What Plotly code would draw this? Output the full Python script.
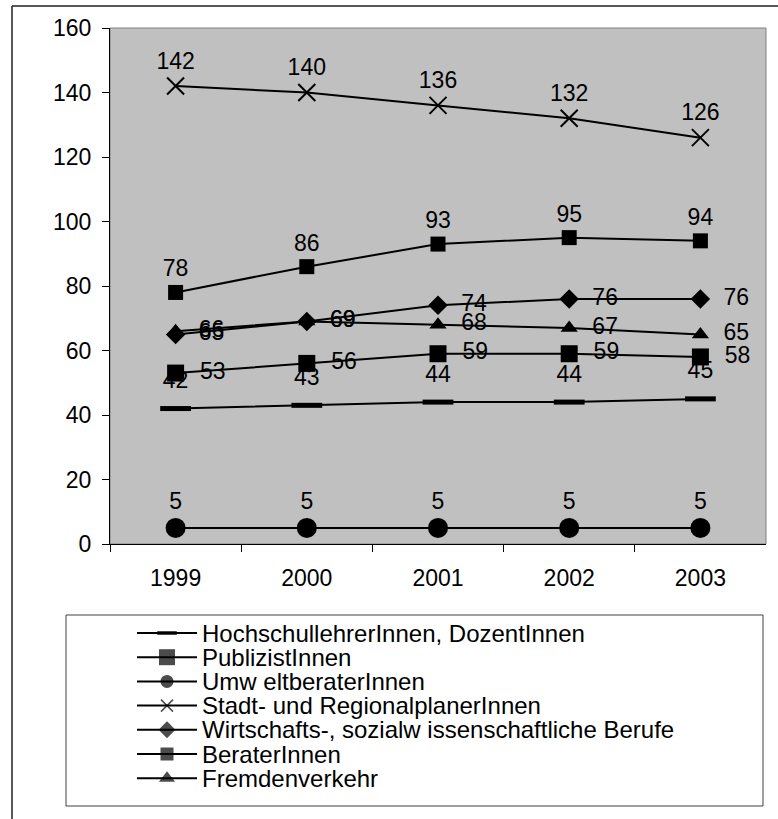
import plotly.graph_objects as go

# Jahre und Werte je Berufsgruppe
years = ["1999", "2000", "2001", "2002", "2003"]
hochschul = [42, 43, 44, 44, 45]
publizist = [78, 86, 93, 95, 94]
umwelt = [5, 5, 5, 5, 5]
stadt = [142, 140, 136, 132, 126]
wirtschaft = [65, 69, 74, 76, 76]
berater = [53, 56, 59, 59, 58]
fremden = [66, 69, 68, 67, 65]

names = [
    "HochschullehrerInnen, DozentInnen",
    "PublizistInnen",
    "Umw eltberaterInnen",
    "Stadt- und RegionalplanerInnen",
    "Wirtschafts-, sozialw issenschaftliche Berufe",
    "BeraterInnen",
    "Fremdenverkehr",
]
y_ticks = [0, 20, 40, 60, 80, 100, 120, 140, 160]

W, H = 778, 819
FONT = "Liberation Sans, Arial, sans-serif"
FS = 23
LEG_FS = 24

# pixel helpers for layout placement
def px(x):
    return x / W

def py(y):
    return (H - y) / H

series = [
    # values, symbol, size, marker outline width, label position, legend size, legend outline
    (hochschul, "line-ew", 22, 5, "top center", 14, 4),
    (publizist, "square", 15, 0, "top center", 16, 0),
    (umwelt, "circle", 20, 0, "top center", 13, 0),
    (stadt, "x-thin", 17, 2, "top center", 12, 1.5),
    (wirtschaft, "diamond", 15, 0, "middle right", 13, 0),
    (berater, "square", 17, 0, "middle right", 13, 0),
    (fremden, "triangle-up", 15, 0, "middle right", 14, 0),
]

fig = go.Figure()

for (vals, sym, size, mlw, tpos, _, _), name in zip(series, names):
    tt = "%{y}" if tpos == "top center" else "  %{y}"
    fig.add_trace(go.Scatter(
        x=years, y=vals, name=name, mode="lines+markers+text",
        line=dict(color="black", width=2),
        marker=dict(symbol=sym, size=size, color="black",
                    line=dict(color="black", width=mlw)),
        texttemplate=tt, textposition=tpos,
        textfont=dict(family=FONT, size=FS, color="black"),
        showlegend=False, cliponaxis=False,
    ))

# legend drawn on its own hidden axes
leg_y0, leg_dy = 633, 24.2
annotations = []
for i, ((vals, sym, size, mlw, tpos, lsize, llw), name) in enumerate(zip(series, names)):
    yy = leg_y0 + i * leg_dy
    fig.add_trace(go.Scatter(
        x=[137, 167, 197], y=[yy, yy, yy], mode="lines+markers",
        xaxis="x2", yaxis="y2",
        line=dict(color="black", width=2),
        marker=dict(symbol=sym, size=[0, lsize, 0], color="black",
                    line=dict(color="black", width=llw)),
        showlegend=False, hoverinfo="skip",
    ))
    annotations.append(dict(
        x=200, y=yy, xref="x2", yref="y2", text=name, showarrow=False,
        xanchor="left", yanchor="middle",
        font=dict(family=FONT, size=LEG_FS, color="black"),
    ))

shapes = [
    # grey plot area with thin border
    dict(type="rect", xref="x domain", yref="y domain", x0=0, x1=1, y0=0, y1=1,
         fillcolor="#c0c0c0", line=dict(color="#808080", width=1), layer="below"),
    # legend frame
    dict(type="rect", xref="x2 domain", yref="y2 domain", x0=0, x1=1, y0=0, y1=1,
         fillcolor="rgba(0,0,0,0)", line=dict(color="#404040", width=1)),
    # outer chart frame
    dict(type="line", xref="paper", yref="paper", x0=px(12), x1=px(12), y0=py(6), y1=py(830),
         line=dict(color="#202020", width=1.5)),
    dict(type="line", xref="paper", yref="paper", x0=px(12), x1=px(790), y0=py(6), y1=py(6),
         line=dict(color="#202020", width=1.5)),
]

fig.update_layout(
    width=W, height=H,
    margin=dict(l=0, r=0, t=0, b=0, autoexpand=False),
    paper_bgcolor="white", plot_bgcolor="white",
    font=dict(family=FONT, size=FS, color="black"),
    showlegend=False,
    xaxis=dict(
        domain=[px(110), px(766)], type="category", range=[-0.5, 4.5],
        showline=True, linecolor="black", linewidth=1,
        ticks="outside", ticklen=7, tickcolor="black", tickson="boundaries",
        showgrid=False, zeroline=False, ticklabelstandoff=13,
        tickfont=dict(family=FONT, size=FS, color="black"),
    ),
    yaxis=dict(
        domain=[py(544), py(28)], range=[0, 160], tickvals=y_ticks,
        showline=True, linecolor="black", linewidth=1,
        ticks="outside", ticklen=7, tickcolor="black",
        showgrid=False, zeroline=False, ticklabelstandoff=6,
        tickfont=dict(family=FONT, size=FS, color="black"),
    ),
    xaxis2=dict(domain=[px(66), px(763)], range=[66, 763], visible=False,
                anchor="y2", fixedrange=True),
    yaxis2=dict(domain=[py(806), py(615)], range=[806, 615], visible=False,
                anchor="x2", fixedrange=True),
    shapes=shapes,
    annotations=annotations,
)

fig.write_html("out.html")
